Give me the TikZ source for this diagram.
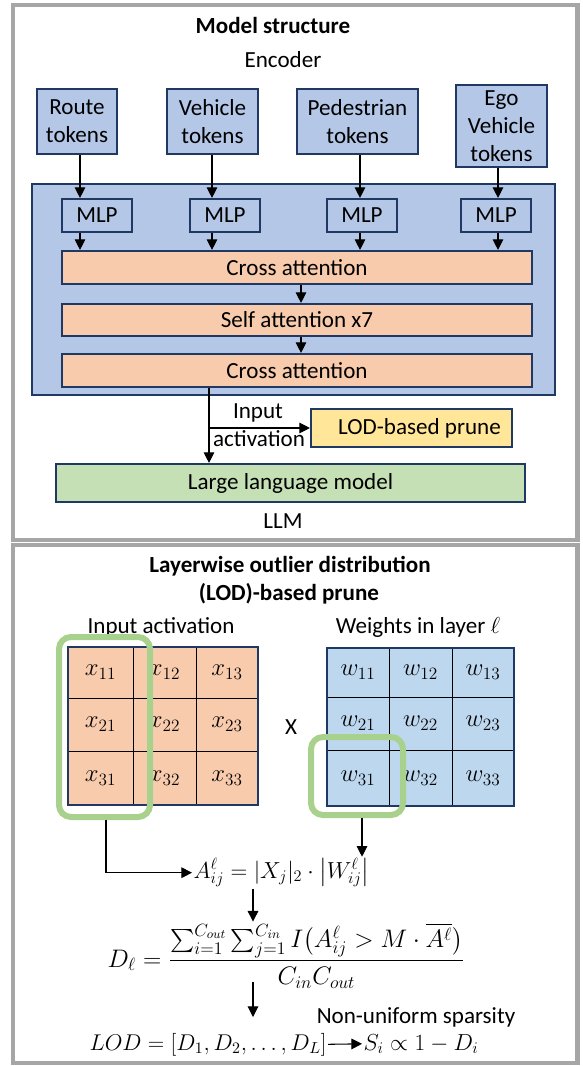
\RequirePackage{fix-cm}
\documentclass[tikz,border=0pt]{standalone}
\usepackage{amsmath}
\usepackage{fontspec}
\setmainfont{Carlito}
\usetikzlibrary{arrows.meta,calc,fit}
\definecolor{navy}{HTML}{203864}
\definecolor{bluefill}{HTML}{B4C7E7}
\definecolor{wblue}{HTML}{BDD7EE}
\definecolor{orangefill}{HTML}{F8CBAD}
\definecolor{yellowfill}{HTML}{FFE699}
\definecolor{greenfill}{HTML}{C5E0B4}
\definecolor{greenline}{HTML}{A9D18E}
\definecolor{panelgray}{HTML}{A6A6A6}
\tikzset{
  sz/.style 2 args={minimum width=#1*0.75pt, minimum height=#2*0.75pt},
  txt/.style={font=\fontsize{17.3}{21}\selectfont, inner sep=0pt},
  ttl/.style={font=\fontsize{17.3}{21}\selectfont\bfseries, inner sep=0pt},
  mth/.style={font=\fontsize{17.4}{21}\selectfont, inner sep=1pt},
  panel/.style={draw=panelgray, line width=3.4pt, inner sep=0pt},
  bbox/.style={draw=navy, line width=1.6pt, fill=bluefill, inner sep=0pt, align=center, font=\fontsize{17.3}{21}\selectfont},
  obox/.style={draw=navy, line width=1.6pt, fill=orangefill, inner sep=0pt, font=\fontsize{17.3}{21}\selectfont},
  ybox/.style={draw=navy, line width=1.6pt, fill=yellowfill, inner sep=0pt, font=\fontsize{17.3}{21}\selectfont},
  gbox/.style={draw=navy, line width=1.6pt, fill=greenfill, inner sep=0pt, font=\fontsize{17.3}{21}\selectfont},
  cell/.style={draw=black, line width=0.7pt, inner sep=0pt, font=\fontsize{18.5}{22}\selectfont},
  mborder/.style={draw=navy, line width=1.6pt, inner sep=0pt},
  sel/.style={draw=greenline, line width=4.5pt, rounded corners=9pt, inner sep=0pt},
  arr/.style={-{Triangle[width=8pt,length=8pt]}, line width=0.8pt}
}
\begin{document}
\begin{tikzpicture}[x=0.75pt,y=-0.75pt]
\useasboundingbox (0,0) rectangle (582,1066);
% panels
\node[panel, fit={(13,5)(577.5,540)}] (ptop) {};
\node[panel, fit={(13,545)(577.5,1063)}] (pbot) {};
% top panel
\node[ttl, anchor=base] (t1) at (273,34) {Model structure};
\node[txt, anchor=base] (enc) at (283,68) {Encoder};
\node[bbox, sz={80}{65}] (route) at (77,121.5) {Route\\tokens};
\node[bbox, sz={91}{65}] (veh) at (212.5,121.5) {Vehicle\\tokens};
\node[bbox, sz={121}{65}] (ped) at (357.5,121.5) {Pedestrian\\tokens};
\node[bbox, sz={91}{82}] (ego) at (501.5,126) {Ego\\Vehicle\\tokens};
\node[bbox, sz={523}{211}] (encbox) at (293.5,289.5) {};
\node[bbox, sz={70}{33}] (m1) at (97,215.5) {MLP};
\node[bbox, sz={70}{33}] (m2) at (225,215.5) {MLP};
\node[bbox, sz={70}{33}] (m3) at (362,215.5) {MLP};
\node[bbox, sz={70}{33}] (m4) at (496,215.5) {MLP};
\node[obox, sz={470}{33}] (ca1) at (297,267.5) {Cross attention};
\node[obox, sz={470}{32}] (sa) at (297,320) {Self attention x7};
\node[obox, sz={470}{33}] (ca2) at (297,370.5) {Cross attention};
\coordinate (c1) at (80,0);
\coordinate (c2) at (212,0);
\coordinate (c3) at (360,0);
\coordinate (c4) at (498,0);
\coordinate (cm) at (301,0);
\coordinate (cv) at (209,0);
\draw[arr] (route.south -| c1) -- (m1.north -| c1);
\draw[arr] (veh.south -| c2) -- (m2.north -| c2);
\draw[arr] (ped.south -| c3) -- (m3.north -| c3);
\draw[arr] (ego.south -| c4) -- (m4.north -| c4);
\draw[arr] (m1.south -| c1) -- (ca1.north -| c1);
\draw[arr] (m2.south -| c2) -- (ca1.north -| c2);
\draw[arr] (m3.south -| c3) -- (ca1.north -| c3);
\draw[arr] (m4.south -| c4) -- (ca1.north -| c4);
\draw[arr] (ca1.south -| cm) -- (sa.north -| cm);
\draw[arr] (sa.south -| cm) -- (ca2.north -| cm);
\node[ybox, sz={201}{38}] (lod) at (411.5,428) {\hspace*{12pt}LOD-based prune};
\node[gbox, sz={469}{38}] (llm) at (290.5,483) {Large language model};
\draw[arr] (ca2.south -| cv) -- (llm.north -| cv);
\coordinate (cj) at (209,428);
\draw[arr] (cj) -- (lod.west);
\node[txt, anchor=base] (inp) at (258,418) {Input};
\node[txt, anchor=base] (act) at (259,446) {activation};
\node[txt, anchor=base] (llml) at (283,528) {LLM};
% bottom panel
\node[ttl, anchor=base] (t2) at (290,572) {Layerwise outlier distribution};
\node[ttl, anchor=base] (t3) at (289,600) {(LOD)-based prune};
\node[txt, anchor=base] (ia) at (161,633) {Input activation};
\node[txt, anchor=base] (wl) at (418,633) {Weights in layer $\ell$};
\foreach \i/\yc/\h in {1/672.5/51, 2/724.5/53, 3/778/54}{
  \foreach \j/\xc/\w in {1/100.5/65, 2/164.5/63, 3/227/62}{
    \node[cell, fill=orangefill, sz={\w}{\h}] (x\i\j) at (\xc,\yc) {$x_{\i\j}$};
  }
}
\node[mborder, fit={(68,647)(258,805)}] (X) {};
\foreach \i/\yc/\h in {1/672.5/49, 2/723.5/53, 3/778/56}{
  \foreach \j/\xc/\w in {1/358/62, 2/420.5/63, 3/483/62}{
    \node[cell, fill=wblue, sz={\w}{\h}] (w\i\j) at (\xc,\yc) {$w_{\i\j}$};
  }
}
\node[mborder, fit={(327,648)(514,806)}] (W) {};
\node[txt] (times) at (291,727) {X};
\node[sel, fit={(59,637)(150,817)}] (gx) {};
\node[sel, fit={(311,737)(403,815)}] (gw) {};
% formulas
\node[mth, anchor=base west] (fA) at (192,878) {$A^{\ell}_{ij} = |X_j|_2 \cdot \left|W^{\ell}_{ij}\right|$};
\coordinate (cx) at (106,0);
\coordinate (cw) at (362,0);
\draw[arr] (gx.south -| cx) |- (fA.west);
\draw[arr] (gw.south -| cw) -- (fA.north -| cw);
\node[mth, font=\fontsize{19}{23}\selectfont, anchor=base west] (fD) at (106,967) {$\displaystyle D_{\ell} = \frac{\sum_{i=1}^{C_{out}}\sum_{j=1}^{C_{in}} I\bigl(A^{\ell}_{ij} > M\cdot\overline{A^{\ell}}\bigr)}{C_{in}C_{out}}$};
\coordinate (ca) at (253,0);
\draw[arr] (fA.south -| ca) -- (fD.north -| ca);
\node[mth, font=\fontsize{17.1}{21}\selectfont, anchor=base west] (fL) at (88,1050) {$LOD = [D_1, D_2, \ldots, D_L]$};
\node[mth, anchor=base west] (fS) at (362,1050) {$S_i \propto 1 - D_i$};
\node[txt, anchor=base] (nus) at (416,1023) {Non-uniform sparsity};
\coordinate (d1) at (253,982);
\coordinate (d2) at (253,1017);
\draw[arr] (d1) -- (d2);
\draw[arr] (fL.east) -- (fS.west);
\end{tikzpicture}
\end{document}
